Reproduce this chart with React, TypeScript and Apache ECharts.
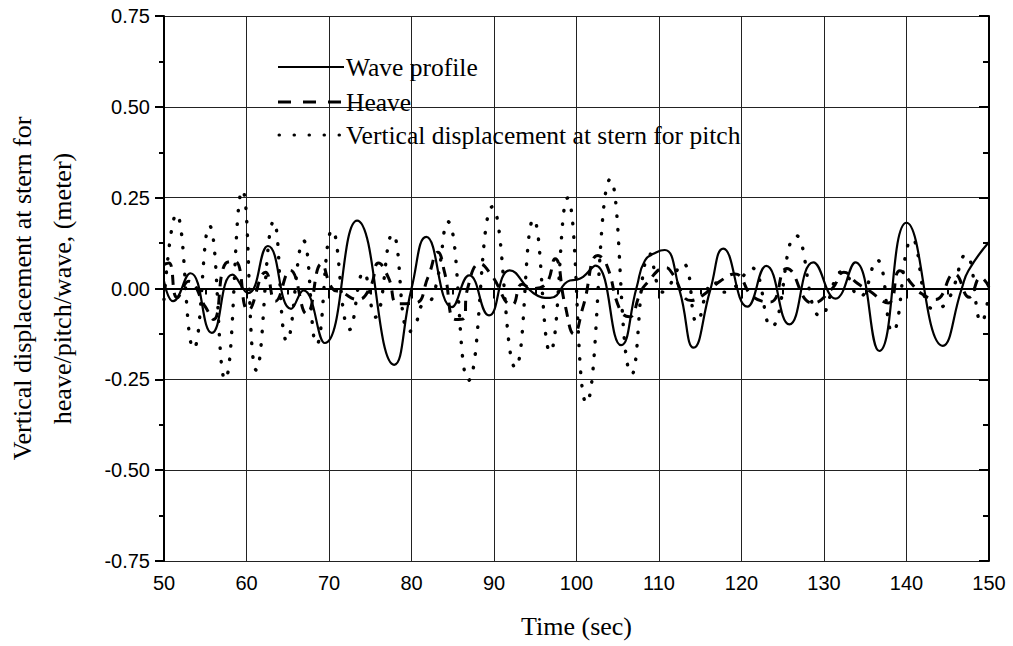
import React, { useEffect, useRef } from "react";
import * as echarts from "echarts";

// ---- data ----
const waveT = [50.0, 51.1, 53.2, 55.8, 58.3, 60.2, 62.6, 65.4, 66.9, 69.5, 73.4, 77.9, 80.0, 81.8, 84.9, 87.0, 89.4, 91.9, 94.8, 96.8, 99.2, 100.0, 100.8, 102.3, 105.4, 107.3, 108.3, 109.7, 110.7, 112.5, 114.2, 116.2, 117.8, 120.7, 123.0, 125.8, 128.7, 131.4, 133.8, 136.7, 140.0, 144.4, 146.7, 147.5, 150.0];
const waveY = [0.02, -0.035, 0.042, -0.122, 0.038, -0.013, 0.117, -0.056, -0.005, -0.15, 0.187, -0.21, 0.0, 0.142, -0.051, 0.036, -0.074, 0.05, -0.013, -0.026, 0.022, 0.024, 0.032, 0.063, -0.156, 0.004, 0.077, 0.1, 0.106, -0.006, -0.163, -0.005, 0.11, -0.05, 0.062, -0.099, 0.072, -0.028, 0.072, -0.172, 0.181, -0.158, 0.0, 0.049, 0.128];

const heaveT = [50.0, 50.6, 51.6, 53.0, 55.0, 56.0, 57.5, 58.6, 60.2, 62.3, 63.5, 65.3, 67.3, 69.1, 70.4, 71.5, 73.5, 75.0, 76.0, 77.2, 78.4, 80.5, 82.0, 83.2, 84.0, 85.3, 86.3, 86.8, 88.3, 89.6, 92.2, 93.4, 94.6, 96.2, 97.4, 98.6, 99.7, 100.8, 102.6, 103.6, 105.3, 106.4, 107.7, 108.3, 110.9, 111.5, 113.9, 115.4, 117.4, 119.2, 121.4, 123.5, 125.5, 128.6, 131.0, 132.4, 134.0, 135.4, 137.8, 139.2, 140.8, 141.8, 143.5, 145.8, 147.6, 149.0, 150.0];
const heaveY = [0.066, 0.07, -0.025, 0.02, -0.05, -0.085, 0.07, 0.075, -0.06, 0.045, -0.035, 0.05, -0.07, 0.068, 0.0, -0.01, -0.03, 0.004, 0.07, 0.03, -0.042, -0.04, 0.031, 0.1, 0.045, -0.085, -0.083, 0.0, 0.068, 0.04, -0.045, 0.012, 0.0, 0.01, 0.082, -0.044, -0.125, -0.05, 0.091, 0.068, -0.06, -0.078, -0.015, 0.009, 0.057, 0.045, -0.033, -0.017, 0.02, 0.04, -0.023, -0.037, 0.055, -0.04, 0.0, 0.045, 0.015, -0.005, -0.04, 0.049, 0.008, -0.014, -0.03, 0.04, -0.024, 0.03, 0.004];

const pitchT = [50.0, 51.5, 53.6, 55.5, 57.4, 59.5, 61.2, 63.3, 64.9, 66.9, 68.5, 70.4, 72.5, 74.2, 75.6, 77.7, 79.7, 80.6, 81.1, 82.6, 84.4, 86.9, 89.8, 92.6, 94.8, 96.8, 98.9, 101.2, 104.1, 106.7, 108.9, 110.5, 112.9, 114.6, 115.9, 116.6, 117.6, 119.0, 121.2, 123.6, 126.6, 129.6, 132.3, 134.3, 136.4, 138.3, 140.7, 143.2, 144.9, 147.2, 149.1, 150.0];
const pitchY = [-0.03, 0.205, -0.166, 0.173, -0.251, 0.271, -0.225, 0.185, -0.145, 0.132, -0.154, 0.161, -0.113, 0.045, -0.079, 0.15, -0.12, -0.092, -0.051, -0.022, 0.184, -0.253, 0.225, -0.218, 0.191, -0.175, 0.249, -0.315, 0.301, -0.236, 0.095, -0.01, 0.069, -0.093, 0.0, 0.02, -0.01, 0.0, 0.057, -0.106, 0.146, -0.077, 0.048, -0.024, 0.079, -0.12, 0.136, -0.056, -0.038, 0.093, -0.093, -0.01];

const seriesNames = ["Wave profile", "Heave", "Vertical displacement at stern for pitch"];
const xTitle = "Time (sec)";
const yTitle = "Vertical displacement at stern for\nheave/pitch/wave, (meter)";

const zip = (t: number[], y: number[]) => t.map((v, i) => [v, y[i]]);

const SERIF = "'Liberation Serif', 'Times New Roman', serif";
const SANS = "'Liberation Sans', Arial, sans-serif";

export default function App() {
  const ref = useRef<HTMLDivElement>(null);
  useEffect(() => {
    if (!ref.current) return;
    const chart = echarts.init(ref.current, undefined, { renderer: "svg" });
    const axisLine = { show: true, lineStyle: { color: "#000", width: 2 } };
    const option: any = {
      animation: false,
      backgroundColor: "#fff",
      grid: { left: 164, right: 24, top: 16, bottom: 85, containLabel: false, outerBoundsMode: "none" },
      xAxis: [
        {
          type: "value", min: 50, max: 150, interval: 10, position: "bottom",
          axisLine,
          axisTick: { show: true, inside: false, length: 9, lineStyle: { color: "#000", width: 2 } },
          minorTick: { show: true, splitNumber: 2, length: 5, lineStyle: { color: "#000", width: 2 } },
          splitLine: { show: true, lineStyle: { color: "#222", width: 1 } },
          axisLabel: { fontFamily: SANS, fontSize: 20, color: "#000", margin: 12 },
          name: xTitle, nameLocation: "middle", nameGap: 52,
          nameTextStyle: { fontFamily: SERIF, fontSize: 26, color: "#000" },
        },
        {
          type: "value", min: 50, max: 150, interval: 10, position: "top",
          axisLine,
          axisTick: { show: true, inside: true, length: 10, lineStyle: { color: "#000", width: 2 } },
          minorTick: { show: true, splitNumber: 2, length: 6, lineStyle: { color: "#000", width: 2 } },
          splitLine: { show: false },
          axisLabel: { show: false },
        },
      ],
      yAxis: [
        {
          type: "value", min: -0.75, max: 0.75, interval: 0.25, position: "left",
          axisLine,
          axisTick: { show: true, inside: false, length: 9, lineStyle: { color: "#000", width: 2 } },
          minorTick: { show: true, splitNumber: 2, length: 5, lineStyle: { color: "#000", width: 2 } },
          splitLine: { show: true, lineStyle: { color: "#222", width: 1 } },
          axisLabel: { fontFamily: SANS, fontSize: 20, color: "#000", margin: 14, formatter: (v: number) => v.toFixed(2) },
          name: yTitle, nameLocation: "middle", nameGap: 82, nameRotate: 90,
          nameTextStyle: { fontFamily: SERIF, fontSize: 26, color: "#000", lineHeight: 40 },
        },
        {
          type: "value", min: -0.75, max: 0.75, interval: 0.25, position: "right",
          axisLine,
          axisTick: { show: true, inside: true, length: 10, lineStyle: { color: "#000", width: 2 } },
          minorTick: { show: true, splitNumber: 2, length: 6, lineStyle: { color: "#000", width: 2 } },
          splitLine: { show: false },
          axisLabel: { show: false },
        },
      ],
      series: [
        {
          name: seriesNames[0], type: "line", data: zip(waveT, waveY), xAxisIndex: 0, yAxisIndex: 0,
          symbol: "none", smooth: 0.5, lineStyle: { color: "#000", width: 2.2, type: "solid" }, z: 3,
        },
        {
          name: seriesNames[1], type: "line", data: zip(heaveT, heaveY), xAxisIndex: 0, yAxisIndex: 0,
          symbol: "none", smooth: 0.5, lineStyle: { color: "#000", width: 3, type: [10, 8] }, z: 2,
        },
        {
          name: seriesNames[2], type: "line", data: zip(pitchT, pitchY), xAxisIndex: 0, yAxisIndex: 0,
          symbol: "none", smooth: 0.5, lineStyle: { color: "#000", width: 3.4, type: [0.5, 13], cap: "round" }, z: 1,
        },
      ],
      graphic: [
        { type: "line", shape: { x1: 278, y1: 67, x2: 344, y2: 67 }, style: { stroke: "#000", lineWidth: 2 }, z: 10 },
        { type: "line", shape: { x1: 278, y1: 102, x2: 344, y2: 102 }, style: { stroke: "#000", lineWidth: 3, lineDash: [13, 12] }, z: 10 },
        { type: "line", shape: { x1: 279, y1: 135, x2: 344, y2: 135 }, style: { stroke: "#000", lineWidth: 3, lineDash: [0.5, 14.5], lineCap: "round" }, z: 10 },
        { type: "text", x: 346, y: 67, style: { text: seriesNames[0], font: `25.5px ${SERIF}`, fill: "#000", verticalAlign: "middle" }, z: 10 },
        { type: "text", x: 346, y: 102, style: { text: seriesNames[1], font: `25.5px ${SERIF}`, fill: "#000", verticalAlign: "middle" }, z: 10 },
        { type: "text", x: 346, y: 135, style: { text: seriesNames[2], font: `25.5px ${SERIF}`, fill: "#000", verticalAlign: "middle" }, z: 10 },
      ],
    };
    chart.setOption(option);
    return () => chart.dispose();
  }, []);
  return <div ref={ref} style={{ position: "fixed", left: 0, top: 0, width: 1013, height: 646, background: "#fff" }} />;
}
